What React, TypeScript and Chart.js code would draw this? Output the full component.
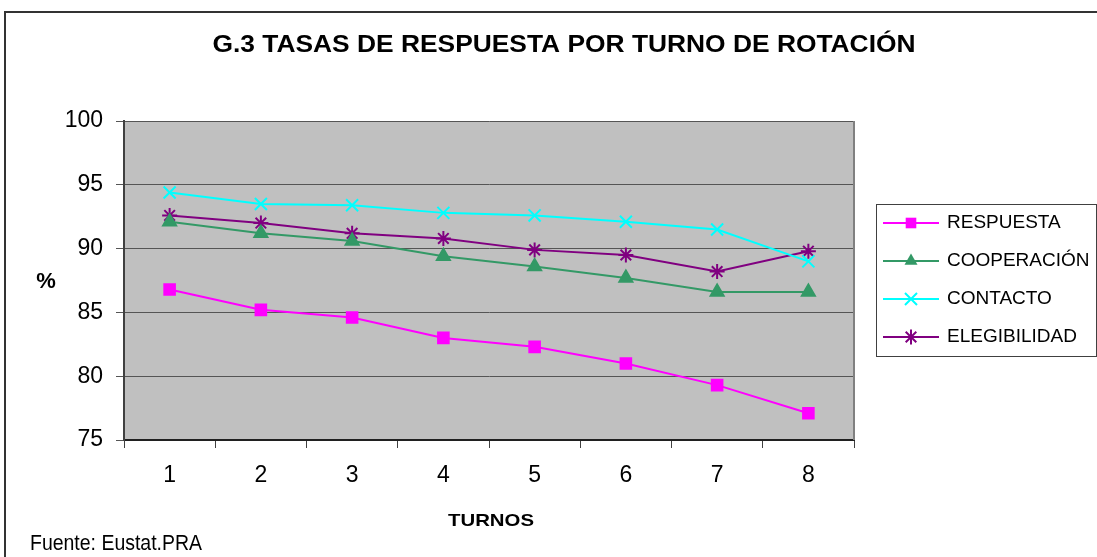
import React, { useEffect, useRef } from 'react';
import { Chart, registerables } from 'chart.js';

Chart.register(...registerables);

// ---- data ----
const TURNOS = ['1', '2', '3', '4', '5', '6', '7', '8'];
const RESPUESTA = [86.8, 85.2, 84.6, 83.0, 82.3, 81.0, 79.3, 77.1];
const COOPERACION = [92.1, 91.2, 90.6, 89.4, 88.6, 87.7, 86.6, 86.6];
const CONTACTO = [94.4, 93.5, 93.4, 92.8, 92.6, 92.1, 91.5, 89.0];
const ELEGIBILIDAD = [92.6, 92.0, 91.2, 90.8, 89.9, 89.5, 88.2, 89.8];
const SERIES_NAMES = ['RESPUESTA', 'COOPERACIÓN', 'CONTACTO', 'ELEGIBILIDAD'];
const Y_MIN = 75;
const Y_MAX = 100;
const Y_STEP = 5;
const TITLE = 'G.3 TASAS DE RESPUESTA POR TURNO DE ROTACIÓN';
const Y_TITLE = '%';
const X_TITLE = 'TURNOS';
const SOURCE = 'Fuente: Eustat.PRA';

const FONT = '"Liberation Sans", Arial, sans-serif';
const W = 1097;
const H = 557;

function drawMarker(ctx: CanvasRenderingContext2D, style: string, x: number, y: number, r: number, color: string) {
  ctx.save();
  ctx.fillStyle = color;
  ctx.strokeStyle = color;
  ctx.lineWidth = 2;
  ctx.beginPath();
  if (style === 'rect') {
    const s = r * Math.SQRT1_2;
    ctx.rect(x - s, y - s, 2 * s, 2 * s);
    ctx.fill();
  } else if (style === 'triangle') {
    let a = 0;
    ctx.moveTo(x + Math.sin(a) * r, y - Math.cos(a) * r);
    a += (2 * Math.PI) / 3;
    ctx.lineTo(x + Math.sin(a) * r, y - Math.cos(a) * r);
    a += (2 * Math.PI) / 3;
    ctx.lineTo(x + Math.sin(a) * r, y - Math.cos(a) * r);
    ctx.closePath();
    ctx.fill();
  } else {
    const o = Math.cos(Math.PI / 4) * r;
    ctx.moveTo(x - o, y - o);
    ctx.lineTo(x + o, y + o);
    ctx.moveTo(x + o, y - o);
    ctx.lineTo(x - o, y + o);
    if (style === 'star') {
      ctx.moveTo(x, y - r);
      ctx.lineTo(x, y + r);
      ctx.moveTo(x - r, y);
      ctx.lineTo(x + r, y);
    }
    ctx.stroke();
  }
  ctx.restore();
}

function drawText(
  ctx: CanvasRenderingContext2D,
  text: string,
  font: string,
  x: number,
  y: number,
  align: 'left' | 'center',
  targetWidth?: number
) {
  ctx.save();
  ctx.font = font;
  ctx.fillStyle = '#000';
  ctx.textBaseline = 'middle';
  const w = ctx.measureText(text).width;
  const sx = targetWidth ? targetWidth / w : 1;
  const left = align === 'center' ? x - (w * sx) / 2 : x;
  ctx.translate(left, y);
  ctx.scale(sx, 1);
  ctx.textAlign = 'left';
  ctx.fillText(text, 0, 0);
  ctx.restore();
}

const decorPlugin = {
  id: 'decor',
  beforeDraw(chart: any) {
    const { ctx, chartArea } = chart;
    ctx.save();
    ctx.fillStyle = '#ffffff';
    ctx.fillRect(0, 0, W, H);
    ctx.fillStyle = '#c0c0c0';
    ctx.fillRect(chartArea.left, chartArea.top, chartArea.right - chartArea.left, chartArea.bottom - chartArea.top);
    // outer frame (top and left visible)
    ctx.strokeStyle = '#333333';
    ctx.lineWidth = 2;
    ctx.beginPath();
    ctx.moveTo(5, H);
    ctx.lineTo(5, 12);
    ctx.lineTo(W, 12);
    ctx.stroke();
    ctx.restore();
  },
  beforeDatasetsDraw(chart: any) {
    const { ctx, chartArea } = chart;
    ctx.save();
    ctx.strokeStyle = '#808080';
    ctx.lineWidth = 2;
    ctx.beginPath();
    ctx.moveTo(chartArea.right, chartArea.top);
    ctx.lineTo(chartArea.right, chartArea.bottom);
    ctx.stroke();
    ctx.restore();
  },
  afterDraw(chart: any) {
    const { ctx } = chart;
    drawText(ctx, TITLE, `bold 23px ${FONT}`, 564, 46, 'center', 703);
    drawText(ctx, Y_TITLE, `bold 22px ${FONT}`, 46, 282, 'center');
    drawText(ctx, X_TITLE, `bold 17px ${FONT}`, 491, 521, 'center', 86);
    drawText(ctx, SOURCE, `22px ${FONT}`, 30, 544, 'left', 172);

    // legend
    const lx = 876;
    const ly = 204;
    const lw = 220;
    const lh = 152;
    ctx.save();
    ctx.fillStyle = '#ffffff';
    ctx.fillRect(lx, ly, lw, lh);
    ctx.strokeStyle = '#404040';
    ctx.lineWidth = 1;
    ctx.strokeRect(lx + 0.5, ly + 0.5, lw, lh);
    ctx.restore();
    chart.data.datasets.forEach((ds: any, i: number) => {
      const cy = 223 + i * 38;
      ctx.save();
      ctx.strokeStyle = ds.borderColor;
      ctx.lineWidth = 2;
      ctx.beginPath();
      ctx.moveTo(883, cy);
      ctx.lineTo(939, cy);
      ctx.stroke();
      ctx.restore();
      drawMarker(ctx, ds.pointStyle, 911, cy, ds.pointRadius, ds.borderColor);
      drawText(ctx, ds.label, `19px ${FONT}`, 947, cy, 'left');
    });
  },
};

const COLORS = ['#ff00ff', '#339966', '#00ffff', '#800080'];
const STYLES = ['rect', 'triangle', 'crossRot', 'star'];
const RADII = [7.5, 7.5, 8.5, 7.5];

export default function App() {
  const ref = useRef<HTMLCanvasElement | null>(null);

  useEffect(() => {
    if (!ref.current) return;
    const values = [RESPUESTA, COOPERACION, CONTACTO, ELEGIBILIDAD];
    const chart = new Chart(ref.current, {
      type: 'line',
      data: {
        labels: TURNOS,
        datasets: values.map((v, i) => ({
          label: SERIES_NAMES[i],
          data: v,
          borderColor: COLORS[i],
          backgroundColor: COLORS[i],
          borderWidth: 2,
          pointStyle: STYLES[i] as any,
          pointRadius: RADII[i],
          pointBorderWidth: 2,
          pointBackgroundColor: COLORS[i],
          pointBorderColor: COLORS[i],
          tension: 0,
          fill: false,
        })),
      },
      options: {
        responsive: false,
        animation: false,
        events: [],
        layout: { padding: { left: 0, top: 121, right: 243, bottom: 0 } },
        plugins: {
          legend: { display: false },
          title: { display: false },
          tooltip: { enabled: false },
        },
        scales: {
          x: {
            type: 'category',
            offset: true,
            afterFit: (s: any) => {
              s.height = 117;
            },
            grid: {
              display: true,
              drawOnChartArea: false,
              drawTicks: true,
              tickLength: 8,
              offset: true,
              color: '#404040',
              lineWidth: 1,
            },
            border: { display: true, color: '#202020', width: 2 },
            ticks: {
              color: '#000',
              font: { family: FONT, size: 23 },
              padding: 14,
              maxRotation: 0,
              autoSkip: false,
            },
          },
          y: {
            min: Y_MIN,
            max: Y_MAX,
            afterFit: (s: any) => {
              s.width = 124;
            },
            grid: {
              color: '#555555',
              lineWidth: 1,
              drawTicks: true,
              tickLength: 8,
            },
            border: { display: true, color: '#404040', width: 2 },
            ticks: {
              stepSize: Y_STEP,
              color: '#000',
              font: { family: FONT, size: 23 },
              padding: 13,
            },
          },
        },
      },
      plugins: [decorPlugin],
    });
    return () => chart.destroy();
  }, []);

  return (
    <div style={{ position: 'fixed', left: 0, top: 0, width: W, height: H, background: '#fff' }}>
      <canvas ref={ref} width={W} height={H} style={{ display: 'block', width: W, height: H }} />
    </div>
  );
}
